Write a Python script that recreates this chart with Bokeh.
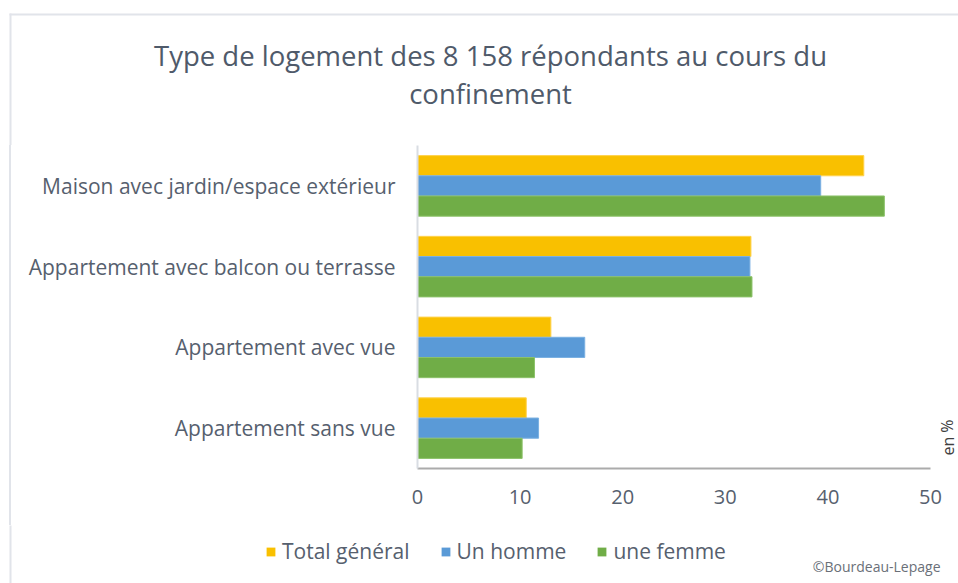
from bokeh.plotting import figure
from bokeh.layouts import column, row
from bokeh.models import (ColumnDataSource, FactorRange, Range1d, Legend,
                          LegendItem, FixedTicker)
from bokeh.transform import dodge
from bokeh.embed import file_html
from bokeh.resources import INLINE

categories = ["Maison avec jardin/espace extérieur",
              "Appartement avec balcon ou terrasse",
              "Appartement avec vue",
              "Appartement sans vue"]
total_general = [43.5, 32.5, 13.0, 10.6]
un_homme = [39.3, 32.4, 16.3, 11.8]
une_femme = [45.5, 32.6, 11.4, 10.2]
series_names = ["Total général", "Un homme", "une femme"]
series_colors = ["#F9C000", "#5A9AD7", "#70AD47"]
series_edges = ["#FFD24D", "#7AB0E2", "#8CC26A"]
x_ticks = [0, 10, 20, 30, 40, 50]
title_lines = ["Type de logement des 8 158 répondants au cours du", "confinement"]
credit = "©Bourdeau-Lepage"
unit_label = "en %"

FONT = "Open Sans"
TXT = "#56606E"
FRAME = "#E1E4EA"

W = 958
TOP_H, MAIN_H, BOT_H = 145, 380, 58
AX_L = 417          # x pixel of the value axis origin
AX_R = 930          # x pixel of the last tick
PLOT_BOTTOM = 468   # y pixel of the value axis

def bare(width, height, x_end, y_start):
    f = figure(width=width, height=height, output_backend="svg", toolbar_location=None,
               x_range=Range1d(0, x_end), y_range=Range1d(y_start, 0),
               min_border=0, outline_line_color=None, border_fill_color="white",
               background_fill_color="white")
    f.axis.visible = False
    f.grid.visible = False
    return f

# ---------- header with title ----------
top = bare(W, TOP_H, W, TOP_H)
top.text(x=[490, 490], y=[55, 93], text=title_lines, text_align="center",
         text_baseline="middle", text_font={"value": FONT}, text_font_size="27.5px",
         text_color="#4F5A6A")
top.segment(x0=[9], y0=[14], x1=[W], y1=[14], line_color=FRAME, line_width=2)
top.segment(x0=[10], y0=[13], x1=[10], y1=[TOP_H + 5], line_color=FRAME, line_width=2)

# ---------- main chart ----------
source = ColumnDataSource(dict(cat=categories, total=total_general,
                               homme=un_homme, femme=une_femme))
L = AX_L
B = TOP_H + MAIN_H - PLOT_BOTTOM
xmax = x_ticks[-1] * (W - AX_L) / (AX_R - AX_L)

p = figure(width=W, height=MAIN_H, output_backend="svg", toolbar_location=None,
           y_range=FactorRange(factors=list(reversed(categories))),
           x_range=Range1d(0, xmax),
           min_border_left=L, min_border_right=0, min_border_top=0, min_border_bottom=B,
           outline_line_color=None, background_fill_color="white",
           border_fill_color=None,
           styles={"background": "linear-gradient(to right, white 9px, %s 9px, %s 11px, white 11px)" % (FRAME, FRAME)})

renderers = []
for key, off, col, edge in zip(["total", "homme", "femme"], [0.25, 0.0, -0.25],
                               series_colors, series_edges):
    renderers.append(p.hbar(y=dodge("cat", off, range=p.y_range), right=key, height=0.25,
                            left=0, source=source, fill_color=col, line_color=edge,
                            line_width=1))

p.xgrid.grid_line_color = None
p.ygrid.grid_line_color = None

xa = p.xaxis[0]
xa.ticker = FixedTicker(ticks=x_ticks)
xa.bounds = (x_ticks[0], x_ticks[-1])
xa.major_tick_line_color = None
xa.minor_tick_line_color = None
xa.major_tick_out = 0
xa.major_tick_in = 0
xa.axis_line_color = "#ABABAB"
xa.axis_line_width = 2
xa.major_label_text_font = FONT
xa.major_label_text_font_size = "20px"
xa.major_label_text_color = TXT
xa.major_label_standoff = 21

ya = p.yaxis[0]
ya.major_tick_line_color = None
ya.minor_tick_line_color = None
ya.major_tick_out = 0
ya.major_tick_in = 0
ya.axis_line_color = "#D9DDE3"
ya.axis_line_width = 2
ya.major_label_text_font = FONT
ya.major_label_text_font_size = "21px"
ya.major_label_text_color = TXT
ya.major_label_standoff = 22

# "en %" unit note near the right end of the value axis
px_per_unit = (AX_R - AX_L) / x_ticks[-1]
px_per_cat = (PLOT_BOTTOM - TOP_H) / len(categories)
p.text(x=[(947 - AX_L) / px_per_unit], y=[(PLOT_BOTTOM - 437) / px_per_cat],
       text=[unit_label], angle=1.5708, text_align="center", text_baseline="middle",
       text_font={"value": FONT}, text_font_size="16px", text_color="#404040")

# ---------- footer: legend + credit ----------
bot = bare(W, BOT_H, W, BOT_H)
bot.segment(x0=[10], y0=[-5], x1=[10], y1=[BOT_H], line_color=FRAME, line_width=2)
bot.text(x=[940], y=[566 - TOP_H - MAIN_H], text=[credit], text_align="right",
         text_baseline="middle", text_font={"value": FONT}, text_font_size="14px",
         text_color="#6A6F78")
# legend-only renderers (placed outside the visible range)
dummy = ColumnDataSource(dict(y=[-1000.0], right=[0.0]))
leg_r = [bot.hbar(y="y", right="right", left=0, height=1, source=dummy, fill_color=c,
                  line_color=None) for c in series_colors]
legend = Legend(items=[LegendItem(label=n, renderers=[r]) for n, r in zip(series_names, leg_r)],
                orientation="horizontal", location=(265, 18),
                padding=0, margin=0, spacing=30, label_standoff=6,
                glyph_width=11, glyph_height=11, label_height=22,
                border_line_color=None, background_fill_alpha=0,
                label_text_font=FONT, label_text_font_size="21px",
                label_text_color=TXT)
bot.add_layout(legend, "center")

# wrapping the chart in a row keeps the column from aligning the plot frames
layout = column(top, row(p, spacing=0), bot, spacing=0)
open("out.html", "w").write(file_html(layout, INLINE))
